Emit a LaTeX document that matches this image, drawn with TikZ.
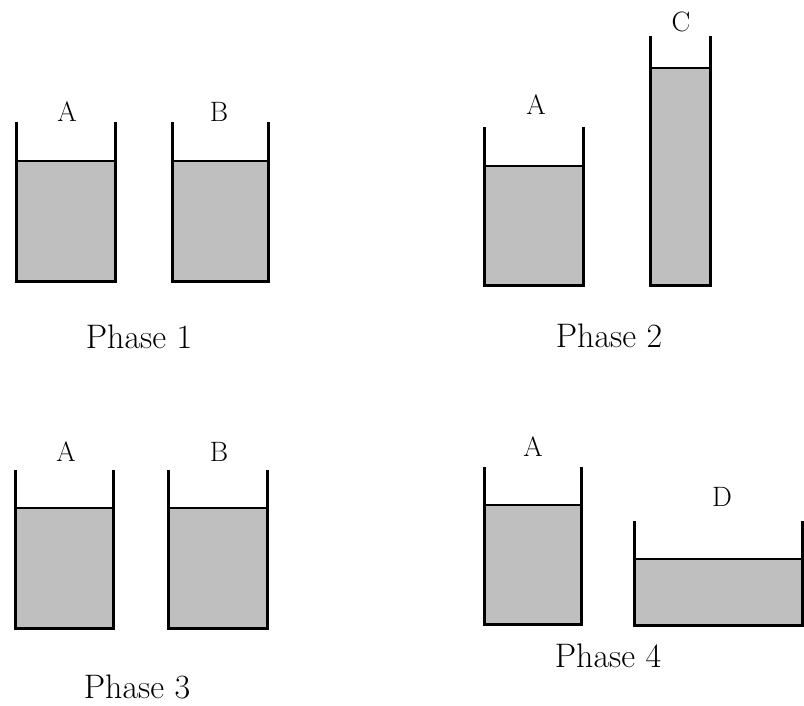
\documentclass[tikz,border=0pt]{standalone}
\usepackage{fontspec}
\usepackage{tikz}
\definecolor{liquid}{gray}{0.75}
\tikzstyle{wall} = [line width=3pt, line join=miter, line cap=butt]
\tikzstyle{surface} = [line width=2.8pt]
\tikzstyle{fillbox} = [fill=liquid, draw=none]
\tikzstyle{tag} = [font=\fontsize{28}{32}\selectfont, inner sep=0pt]
\tikzstyle{phase} = [font=\fontsize{34}{40}\selectfont, inner sep=0pt]

\begin{document}
\begin{tikzpicture}[x=1pt, y=-1pt]
        \useasboundingbox (0,0) rectangle (804,705);

        % Phase 1: A and B
        \fill [fillbox] (16,161) rectangle (115,281);
        \draw [wall] (16,122) -- (16,281) -- (115,281) -- (115,122);
        \draw [surface] (16,161) -- (115,161);
        \node (a1) [tag] at (67,112) {A};

        \fill [fillbox] (172,161) rectangle (268,281);
        \draw [wall] (172,122) -- (172,281) -- (268,281) -- (268,122);
        \draw [surface] (172,161) -- (268,161);
        \node (b1) [tag] at (219,112) {B};

        \node (p1) [phase] at (139,337) {Phase 1};

        % Phase 2: A and the tall one, C
        \fill [fillbox] (484,166) rectangle (583,285);
        \draw [wall] (484,127) -- (484,285) -- (583,285) -- (583,127);
        \draw [surface] (484,166) -- (583,166);
        \node (a2) [tag] at (536,105) {A};

        \fill [fillbox] (650,68) rectangle (710,285);
        \draw [wall] (650,36) -- (650,285) -- (710,285) -- (710,36);
        \draw [surface] (650,68) -- (710,68);
        \node (c2) [tag] at (681,22) {C};

        \node (p2) [phase] at (609,336) {Phase 2};

        % Phase 3: A and B again
        \fill [fillbox] (15,508) rectangle (113,628);
        \draw [wall] (15,470) -- (15,628) -- (113,628) -- (113,470);
        \draw [surface] (15,508) -- (113,508);
        \node (a3) [tag] at (66,452) {A};

        \fill [fillbox] (168,508) rectangle (267,628);
        \draw [wall] (168,470) -- (168,628) -- (267,628) -- (267,470);
        \draw [surface] (168,508) -- (267,508);
        \node (b3) [tag] at (219,452) {B};

        \node (p3) [phase] at (137,687) {Phase 3};

        % Phase 4: A and the wide one, D
        \fill [fillbox] (484,505) rectangle (581,624);
        \draw [wall] (484,467) -- (484,624) -- (581,624) -- (581,467);
        \draw [surface] (484,505) -- (581,505);
        \node (a4) [tag] at (533,447) {A};

        \fill [fillbox] (634,559) rectangle (802,625);
        \draw [wall] (634,521) -- (634,625) -- (802,625) -- (802,521);
        \draw [surface] (634,559) -- (802,559);
        \node (d4) [tag] at (722,497) {D};

        \node (p4) [phase] at (608,656) {Phase 4};
\end{tikzpicture}
\end{document}
